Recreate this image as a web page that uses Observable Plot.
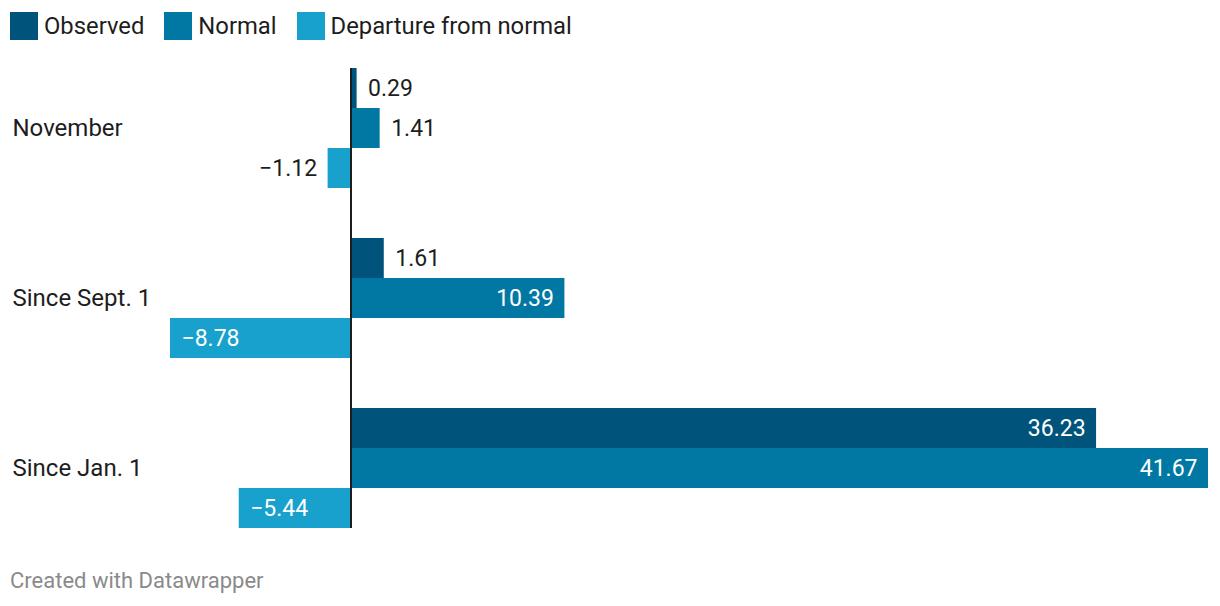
<!DOCTYPE html>
<html>
<head>
<meta charset="utf-8">
<script src="https://cdn.jsdelivr.net/npm/d3@7"></script>
<script src="https://cdn.jsdelivr.net/npm/@observablehq/plot@0.6"></script>
<style>
  body { margin: 0; background: #fff; font-family: Roboto, sans-serif; color: #1d1d1d; }
  #legend { display: flex; align-items: center; height: 28px; padding: 12px 0 0 10px; margin-bottom: 12px; font-size: 23.8px; }
  .item { display: flex; align-items: center; margin-right: 20px; }
  .sw { width: 28px; height: 28px; margin-right: 6px; }
  #chart svg { display: block; }
  #caption { margin: 17px 0 0 10px; font-size: 22px; line-height: 24px; color: #8a8a8a; }
</style>
</head>
<body>
<div id="legend"></div>
<div id="chart"></div>
<div id="caption">Created with Datawrapper</div>
<script>
const categories = ["November", "Since Sept. 1", "Since Jan. 1"];
const series = ["Observed", "Normal", "Departure from normal"];
const observed = [0.29, 1.61, 36.23];
const normal = [1.41, 10.39, 41.67];
const departure = [-1.12, -8.78, -5.44];
const colors = ["#00537a", "#0078a3", "#18a1cd"];

const values = [observed, normal, departure];
const data = [];
categories.forEach((c, i) => series.forEach((s, j) => data.push({category: c, series: s, value: values[j][i]})));

const legend = document.getElementById("legend");
series.forEach((s, j) => {
  const it = document.createElement("div");
  it.className = "item";
  it.innerHTML = `<div class="sw" style="background:${colors[j]}"></div><span>${s}</span>`;
  legend.appendChild(it);
});

const W = 1220, ML = 170, MR = 12;
const barH = 40, groupGap = 50;
const groupStep = barH * series.length + groupGap;
const xDomain = d3.extent(data, d => d.value);
// pixel-snap the zero line
const x0 = ML + (0 - xDomain[0]) / (xDomain[1] - xDomain[0]) * (W - ML - MR) + 0.5;
const snapDx = Math.round(x0) - x0;

const fmt = d3.format(".2f");
const inside = d => Math.abs(d.value) > 3;
const common = {x: "value", y: "series", fy: "category", text: d => fmt(d.value), fontSize: 23, fontFamily: "Roboto"};

const chart = Plot.plot({
  width: W,
  height: 16 + categories.length * groupStep - groupGap + 24,
  marginTop: 16,
  marginBottom: 24,
  marginLeft: ML,
  marginRight: MR,
  x: {domain: xDomain, nice: false, axis: null},
  y: {domain: series, padding: 0, axis: null},
  fy: {domain: categories, paddingInner: groupGap / groupStep, paddingOuter: 0, axis: null},
  color: {domain: series, range: colors},
  marks: [
    Plot.barX(data, {x: "value", y: "series", fy: "category", fill: "series"}),
    Plot.text(data.filter(d => d.value >= 0 && inside(d)), {...common, textAnchor: "end", dx: -11, fill: "white"}),
    Plot.text(data.filter(d => d.value >= 0 && !inside(d)), {...common, textAnchor: "start", dx: 11, fill: "#1d1d1d"}),
    Plot.text(data.filter(d => d.value < 0 && inside(d)), {...common, textAnchor: "start", dx: 11, fill: "white"}),
    Plot.text(data.filter(d => d.value < 0 && !inside(d)), {...common, textAnchor: "end", dx: -11, fill: "#1d1d1d"}),
    Plot.text(categories, {fy: d => d, text: d => d, frameAnchor: "left", textAnchor: "start", dx: -158, fontSize: 24, fontFamily: "Roboto", fill: "#1d1d1d"}),
    Plot.ruleX([{category: categories[0], v: 0}], {
      x: "v", fy: "category", stroke: "#1d1d1d", strokeWidth: 2, dx: snapDx,
      insetBottom: -(categories.length - 1) * groupStep
    })
  ]
});
document.getElementById("chart").appendChild(chart);
</script>
</body>
</html>
